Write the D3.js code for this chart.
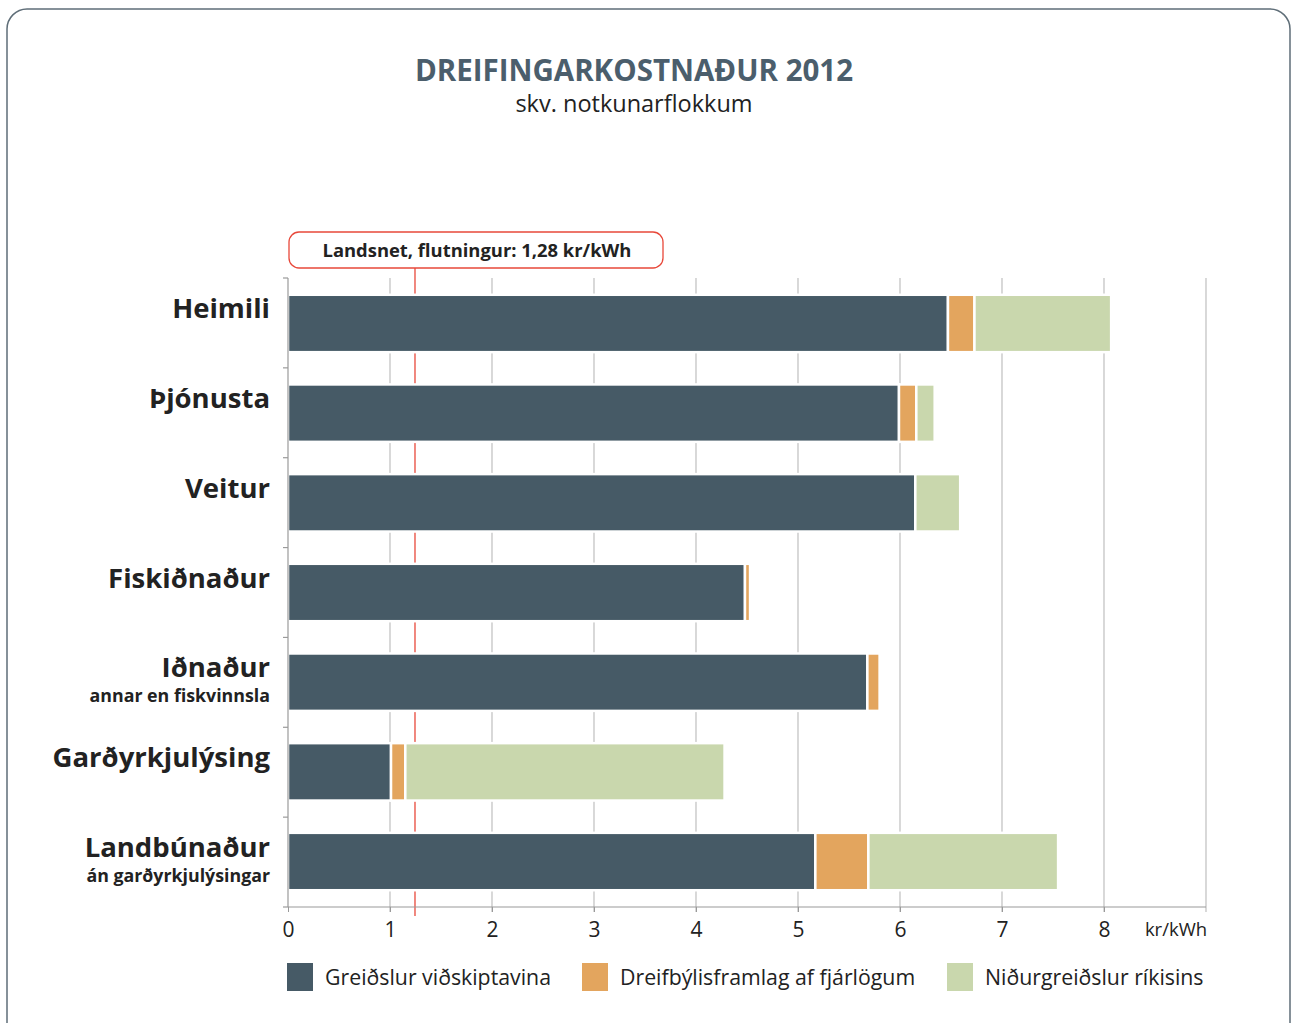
<!DOCTYPE html>
<html>
<head>
<meta charset="utf-8">
<script src="https://cdn.jsdelivr.net/npm/d3@7"></script>
<style>
  body { margin: 0; background: #fff; }
  svg { display: block; font-family: "Open Sans", sans-serif; }
</style>
</head>
<body>
<div id="chart"></div>
<script>
// data
const categories = ["Heimili", "Þjónusta", "Veitur", "Fiskiðnaður", "Iðnaður", "Garðyrkjulýsing", "Landbúnaður"];
const subLabels = ["", "", "", "", "annar en fiskvinnsla", "", "án garðyrkjulýsingar"];
const customerPay = [6.47, 5.99, 6.15, 4.48, 5.68, 1.01, 5.17];
const ruralGrant = [0.26, 0.17, 0, 0.05, 0.12, 0.14, 0.52];
const stateSubsidy = [1.34, 0.18, 0.44, 0, 0, 3.13, 1.86];
const seriesNames = ["Greiðslur viðskiptavina", "Dreifbýlisframlag af fjárlögum", "Niðurgreiðslur ríkisins"];
const xTicks = [0, 1, 2, 3, 4, 5, 6, 7, 8];
const landsnetLabel = "Landsnet, flutningur: 1,28 kr/kWh";
const landsnetLine = 1.245; // where the red line sits in the source

const colors = ["#465a66", "#e3a55e", "#c9d7ad"];
const width = 1292, height = 1023;

const svg = d3.select("#chart").append("svg")
    .attr("width", width)
    .attr("height", height);

// frame
svg.append("rect")
    .attr("x", 7).attr("y", 9)
    .attr("width", 1283).attr("height", 1040)
    .attr("rx", 20)
    .attr("fill", "none")
    .attr("stroke", "#5f6e78")
    .attr("stroke-width", 1.5);

// titles
svg.append("text")
    .attr("x", 634).attr("y", 81)
    .attr("text-anchor", "middle")
    .attr("font-size", 29.5).attr("font-weight", 700)
    .attr("fill", "#4b5e6c")
    .text("DREIFINGARKOSTNAÐUR 2012");
svg.append("text")
    .attr("x", 634).attr("y", 112)
    .attr("text-anchor", "middle")
    .attr("font-size", 23.5)
    .attr("fill", "#222")
    .text("skv. notkunarflokkum");

const x = d3.scaleLinear().domain([0, 9]).range([288, 1206]);
const y = d3.scaleBand().domain(categories).range([278, 907])
    .paddingInner(0.36).paddingOuter(0.187);

// grid lines
svg.append("g").selectAll("line")
    .data(xTicks.slice(1).concat([9]))
    .join("line")
    .attr("x1", d => x(d)).attr("x2", d => x(d))
    .attr("y1", 278).attr("y2", 912)
    .attr("stroke", "#c4c4c4")
    .attr("stroke-width", 1.3);

// landsnet annotation
svg.append("line")
    .attr("x1", x(landsnetLine)).attr("x2", x(landsnetLine))
    .attr("y1", 268).attr("y2", 916)
    .attr("stroke", "#e8483a")
    .attr("stroke-width", 1.3);
svg.append("rect")
    .attr("x", 289).attr("y", 232)
    .attr("width", 374).attr("height", 36)
    .attr("rx", 10)
    .attr("fill", "#fff")
    .attr("stroke", "#e8483a")
    .attr("stroke-width", 1.3);
svg.append("text")
    .attr("x", 477).attr("y", 257)
    .attr("text-anchor", "middle")
    .attr("font-size", 18.4).attr("font-weight", 700)
    .attr("fill", "#222")
    .text(landsnetLabel);

// stacked bars
const rows = categories.map((c, i) => ({
    cat: c,
    v0: customerPay[i], v1: ruralGrant[i], v2: stateSubsidy[i]
}));
const stack = d3.stack().keys(["v0", "v1", "v2"])(rows);

svg.append("g").selectAll("g")
    .data(stack)
    .join("g")
    .attr("fill", (d, i) => colors[i])
    .selectAll("rect")
    .data(d => d.filter(s => s[1] - s[0] > 0))
    .join("rect")
    .attr("x", d => x(d[0]))
    .attr("width", d => x(d[1]) - x(d[0]))
    .attr("y", d => y(d.data.cat))
    .attr("height", y.bandwidth())
    .attr("stroke", "#fff")
    .attr("stroke-width", 2.5);

// left axis with ticks at band boundaries
svg.append("line")
    .attr("x1", 288).attr("x2", 288)
    .attr("y1", 278).attr("y2", 907)
    .attr("stroke", "#9a9a9a").attr("stroke-width", 1.2);
svg.append("g").selectAll("line")
    .data(d3.range(categories.length + 1))
    .join("line")
    .attr("x1", 283).attr("x2", 288)
    .attr("y1", i => 278 + i * 629 / categories.length)
    .attr("y2", i => 278 + i * 629 / categories.length)
    .attr("stroke", "#9a9a9a").attr("stroke-width", 1.2);

// bottom axis
const xAxis = svg.append("g")
    .attr("transform", "translate(0,907)")
    .call(d3.axisBottom(x).tickValues(xTicks).tickSize(5).tickFormat(d => d));
xAxis.select(".domain").attr("stroke", "#9a9a9a").attr("stroke-width", 1.2)
    .attr("d", `M${x(0)},0H${x(9)}`);
xAxis.selectAll(".tick line").attr("stroke", "#9a9a9a");
xAxis.selectAll(".tick text")
    .attr("y", 15)
    .attr("font-size", 21)
    .attr("font-family", "Open Sans, sans-serif")
    .attr("fill", "#222");
svg.append("text")
    .attr("x", 1176).attr("y", 936)
    .attr("text-anchor", "middle")
    .attr("font-size", 18.5)
    .attr("fill", "#222")
    .text("kr/kWh");

// category labels
const labels = svg.append("g").selectAll("g")
    .data(categories)
    .join("g");
labels.append("text")
    .attr("x", 270)
    .attr("y", d => y(d) + y.bandwidth() / 2 - 5)
    .attr("text-anchor", "end")
    .attr("font-size", 27.5).attr("font-weight", 700)
    .attr("fill", "#222")
    .text(d => d);
labels.append("text")
    .attr("x", 270)
    .attr("y", d => y(d) + y.bandwidth() / 2 + 20)
    .attr("text-anchor", "end")
    .attr("font-size", 17.8).attr("font-weight", 700)
    .attr("fill", "#222")
    .text((d, i) => subLabels[i]);

// legend
const legendX = [287, 582, 947];
const legend = svg.append("g").selectAll("g")
    .data(seriesNames)
    .join("g")
    .attr("transform", (d, i) => `translate(${legendX[i]},963)`);
legend.append("rect")
    .attr("width", 26).attr("height", 28)
    .attr("fill", (d, i) => colors[i]);
legend.append("text")
    .attr("x", 38).attr("y", 22)
    .attr("font-size", 21.3)
    .attr("fill", "#222")
    .text(d => d);
</script>
</body>
</html>
